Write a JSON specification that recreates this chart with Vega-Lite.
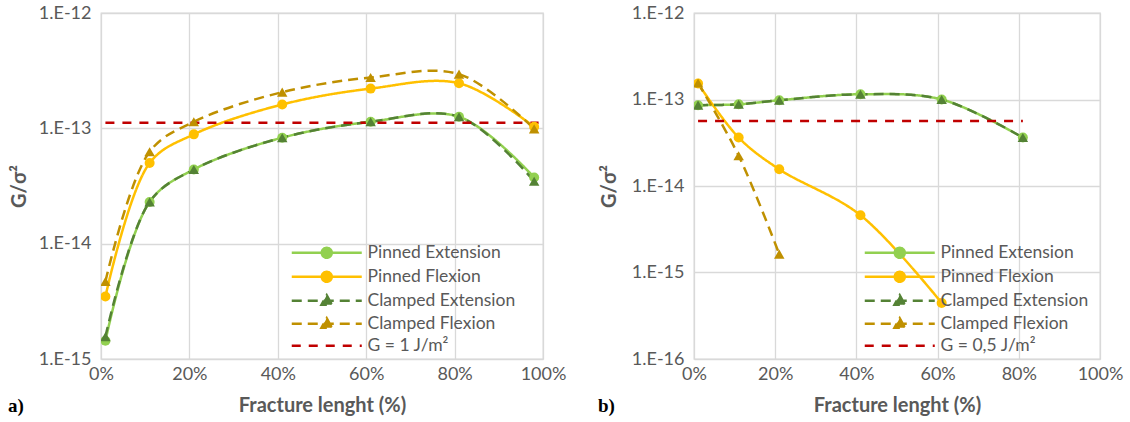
{
  "$schema": "https://vega.github.io/schema/vega-lite/v6.json",
  "padding": {"left": 7, "top": 3, "right": 5, "bottom": 0},
  "background": "white",
  "bounds": "flush",
  "spacing": 151,
  "datasets": {
    "a": [
      {"series": "Pinned Extension", "x": 1, "g": 1.44e-15},
      {"series": "Pinned Extension", "x": 11, "g": 2.3e-14},
      {"series": "Pinned Extension", "x": 21, "g": 4.4e-14},
      {"series": "Pinned Extension", "x": 41, "g": 8.3e-14},
      {"series": "Pinned Extension", "x": 61, "g": 1.14e-13},
      {"series": "Pinned Extension", "x": 81, "g": 1.26e-13},
      {"series": "Pinned Extension", "x": 98, "g": 3.75e-14},
      {"series": "Pinned Flexion", "x": 1, "g": 3.48e-15},
      {"series": "Pinned Flexion", "x": 11, "g": 5.0e-14},
      {"series": "Pinned Flexion", "x": 21, "g": 8.87e-14},
      {"series": "Pinned Flexion", "x": 41, "g": 1.61e-13},
      {"series": "Pinned Flexion", "x": 61, "g": 2.21e-13},
      {"series": "Pinned Flexion", "x": 81, "g": 2.46e-13},
      {"series": "Pinned Flexion", "x": 98, "g": 1.03e-13},
      {"series": "Clamped Extension", "x": 1, "g": 1.56e-15},
      {"series": "Clamped Extension", "x": 11, "g": 2.3e-14},
      {"series": "Clamped Extension", "x": 21, "g": 4.4e-14},
      {"series": "Clamped Extension", "x": 41, "g": 8.3e-14},
      {"series": "Clamped Extension", "x": 61, "g": 1.14e-13},
      {"series": "Clamped Extension", "x": 81, "g": 1.26e-13},
      {"series": "Clamped Extension", "x": 98, "g": 3.48e-14},
      {"series": "Clamped Flexion", "x": 1, "g": 4.7e-15},
      {"series": "Clamped Flexion", "x": 11, "g": 6.27e-14},
      {"series": "Clamped Flexion", "x": 21, "g": 1.14e-13},
      {"series": "Clamped Flexion", "x": 41, "g": 2.06e-13},
      {"series": "Clamped Flexion", "x": 61, "g": 2.76e-13},
      {"series": "Clamped Flexion", "x": 81, "g": 2.95e-13},
      {"series": "Clamped Flexion", "x": 98, "g": 9.9e-14},
      {"series": "G = 1 J/m²", "x": 1, "g": 1.12e-13},
      {"series": "G = 1 J/m²", "x": 99, "g": 1.12e-13}
    ],
    "b": [
      {"series": "Pinned Extension", "x": 1, "g": 8.6e-14},
      {"series": "Pinned Extension", "x": 11, "g": 8.8e-14},
      {"series": "Pinned Extension", "x": 21, "g": 9.8e-14},
      {"series": "Pinned Extension", "x": 41, "g": 1.15e-13},
      {"series": "Pinned Extension", "x": 61, "g": 1.0e-13},
      {"series": "Pinned Extension", "x": 81, "g": 3.63e-14},
      {"series": "Pinned Flexion", "x": 1, "g": 1.53e-13},
      {"series": "Pinned Flexion", "x": 11, "g": 3.63e-14},
      {"series": "Pinned Flexion", "x": 21, "g": 1.56e-14},
      {"series": "Pinned Flexion", "x": 41, "g": 4.6e-15},
      {"series": "Pinned Flexion", "x": 61, "g": 4.45e-16},
      {"series": "Clamped Extension", "x": 1, "g": 8.6e-14},
      {"series": "Clamped Extension", "x": 11, "g": 8.8e-14},
      {"series": "Clamped Extension", "x": 21, "g": 9.8e-14},
      {"series": "Clamped Extension", "x": 41, "g": 1.15e-13},
      {"series": "Clamped Extension", "x": 61, "g": 1.0e-13},
      {"series": "Clamped Extension", "x": 81, "g": 3.63e-14},
      {"series": "Clamped Flexion", "x": 1, "g": 1.55e-13},
      {"series": "Clamped Flexion", "x": 11, "g": 2.24e-14},
      {"series": "Clamped Flexion", "x": 21, "g": 1.63e-15},
      {"series": "G = 0,5 J/m²", "x": 1, "g": 5.65e-14},
      {"series": "G = 0,5 J/m²", "x": 81, "g": 5.65e-14}
    ]
  },
  "resolve": {
    "scale": {"color": "independent", "strokeDash": "independent", "x": "independent", "y": "independent"},
    "legend": {"color": "independent"}
  },
  "hconcat": [
    {
      "width": 442,
      "height": 346,
      "data": {"name": "a"},
      "title": {"text": "a)", "orient": "bottom", "anchor": "start", "frame": "group", "font": "Liberation Serif", "fontSize": 19, "fontWeight": "bold", "color": "#000000", "dx": -93, "dy": -18, "offset": 0},
      "encoding": {
        "x": {"field": "x", "type": "quantitative", "scale": {"domain": [0, 100], "nice": false}, "axis": {"values": [0, 20, 40, 60, 80, 100], "labelExpr": "datum.value + '%'", "labelPadding": 6, "title": "Fracture lenght (%)", "titlePadding": 12}},
        "y": {"field": "g", "type": "quantitative", "scale": {"type": "log", "domain": [1e-15, 1e-12], "nice": false}, "axis": {"values": [1e-15, 1e-14, 1e-13, 1e-12], "labelExpr": "'1.E-' + round(-log(datum.value)/LN10)", "labelPadding": 10, "title": "G/σ²", "titlePadding": 9}}
      },
      "layer": [
        {
          "mark": {"type": "line", "interpolate": "catmull-rom", "strokeWidth": 2.5, "clip": true},
          "encoding": {
            "color": {"field": "series", "type": "nominal", "scale": {"domain": ["Pinned Extension", "Pinned Flexion", "Clamped Extension", "Clamped Flexion", "G = 1 J/m²"], "range": ["#92D050", "#FFC000", "#548235", "#BF9000", "#C00000"]},
              "legend": {"orient": "none", "legendX": 217, "legendY": 231, "title": null, "padding": 0, "labelFont": "Lato", "labelFontSize": 17.5, "labelColor": "#595959", "labelOffset": 32, "rowPadding": 3, "symbolSize": 100, "labelLimit": 300,
                "encode": {"symbols": {"update": {
                  "shape": {"signal": "indexof(datum.value,'Pinned')==0 ? 'M-7,0H7M-1,0A1,1 0 1,0 1,0A1,1 0 1,0 -1,0Z' : indexof(datum.value,'Clamped')==0 ? 'M-7,0H7M0,-1.1L1.05,0.8L-1.05,0.8Z' : 'M-7,0H7'"},
                  "fill": {"signal": "datum.value=='Pinned Extension' ? '#92D050' : datum.value=='Pinned Flexion' ? '#FFC000' : datum.value=='Clamped Extension' ? '#548235' : datum.value=='Clamped Flexion' ? '#BF9000' : '#C00000'"},
                  "stroke": {"signal": "datum.value=='Pinned Extension' ? '#92D050' : datum.value=='Pinned Flexion' ? '#FFC000' : datum.value=='Clamped Extension' ? '#548235' : datum.value=='Clamped Flexion' ? '#BF9000' : '#C00000'"},
                  "strokeDash": {"signal": "indexof(datum.value,'Pinned')==0 ? [1,0] : indexof(datum.value,'Clamped')==0 ? [10,6] : [9,8]"},
                  "strokeWidth": {"value": 2.5},
                  "size": {"value": 100},
                  "opacity": {"value": 1},
                  "fillOpacity": {"value": 1},
                  "strokeOpacity": {"value": 1}
                }}}}},
            "strokeDash": {"field": "series", "type": "nominal", "scale": {"domain": ["Pinned Extension", "Pinned Flexion", "Clamped Extension", "Clamped Flexion", "G = 1 J/m²"], "range": [[1, 0], [1, 0], [10, 6], [10, 6], [9, 8]]}, "legend": null},
            "strokeWidth": {"condition": {"test": "indexof(datum.series,'G =')==0", "value": 3}, "value": 2.5}
          }
        },
        {
          "transform": [{"filter": "indexof(datum.series,'Pinned') == 0"}],
          "mark": {"type": "circle", "opacity": 1, "size": 100, "clip": true},
          "encoding": {
            "color": {"field": "series", "type": "nominal", "legend": null}
          }
        },
        {
          "transform": [{"filter": "indexof(datum.series,'Clamped') == 0"}],
          "mark": {"type": "point", "shape": "triangle-up", "filled": true, "opacity": 1, "size": 110, "clip": true},
          "encoding": {
            "color": {"field": "series", "type": "nominal", "legend": null}
          }
        }
      ]
    },
    {
      "width": 406,
      "height": 346,
      "data": {"name": "b"},
      "title": {"text": "b)", "orient": "bottom", "anchor": "start", "frame": "group", "font": "Liberation Serif", "fontSize": 19, "fontWeight": "bold", "color": "#000000", "dx": -96, "dy": -18, "offset": 0},
      "encoding": {
        "x": {"field": "x", "type": "quantitative", "scale": {"domain": [0, 100], "nice": false}, "axis": {"values": [0, 20, 40, 60, 80, 100], "labelExpr": "datum.value + '%'", "labelPadding": 6, "title": "Fracture lenght (%)", "titlePadding": 12}},
        "y": {"field": "g", "type": "quantitative", "scale": {"type": "log", "domain": [1e-16, 1e-12], "nice": false}, "axis": {"values": [1e-16, 1e-15, 1e-14, 1e-13, 1e-12], "labelExpr": "'1.E-' + round(-log(datum.value)/LN10)", "labelPadding": 10, "title": "G/σ²", "titlePadding": 12}}
      },
      "layer": [
        {
          "mark": {"type": "line", "interpolate": "catmull-rom", "strokeWidth": 2.5, "clip": true},
          "encoding": {
            "color": {"field": "series", "type": "nominal", "scale": {"domain": ["Pinned Extension", "Pinned Flexion", "Clamped Extension", "Clamped Flexion", "G = 0,5 J/m²"], "range": ["#92D050", "#FFC000", "#548235", "#BF9000", "#C00000"]},
              "legend": {"orient": "none", "legendX": 197, "legendY": 231, "title": null, "padding": 0, "labelFont": "Lato", "labelFontSize": 17.5, "labelColor": "#595959", "labelOffset": 32, "rowPadding": 3, "symbolSize": 100, "labelLimit": 300,
                "encode": {"symbols": {"update": {
                  "shape": {"signal": "indexof(datum.value,'Pinned')==0 ? 'M-7,0H7M-1,0A1,1 0 1,0 1,0A1,1 0 1,0 -1,0Z' : indexof(datum.value,'Clamped')==0 ? 'M-7,0H7M0,-1.1L1.05,0.8L-1.05,0.8Z' : 'M-7,0H7'"},
                  "fill": {"signal": "datum.value=='Pinned Extension' ? '#92D050' : datum.value=='Pinned Flexion' ? '#FFC000' : datum.value=='Clamped Extension' ? '#548235' : datum.value=='Clamped Flexion' ? '#BF9000' : '#C00000'"},
                  "stroke": {"signal": "datum.value=='Pinned Extension' ? '#92D050' : datum.value=='Pinned Flexion' ? '#FFC000' : datum.value=='Clamped Extension' ? '#548235' : datum.value=='Clamped Flexion' ? '#BF9000' : '#C00000'"},
                  "strokeDash": {"signal": "indexof(datum.value,'Pinned')==0 ? [1,0] : indexof(datum.value,'Clamped')==0 ? [10,6] : [9,8]"},
                  "strokeWidth": {"value": 2.5},
                  "size": {"value": 100},
                  "opacity": {"value": 1},
                  "fillOpacity": {"value": 1},
                  "strokeOpacity": {"value": 1}
                }}}}},
            "strokeDash": {"field": "series", "type": "nominal", "scale": {"domain": ["Pinned Extension", "Pinned Flexion", "Clamped Extension", "Clamped Flexion", "G = 0,5 J/m²"], "range": [[1, 0], [1, 0], [10, 6], [10, 6], [9, 8]]}, "legend": null},
            "strokeWidth": {"condition": [{"test": "indexof(datum.series,'G =')==0", "value": 3}, {"test": "datum.series == 'Clamped Flexion'", "value": 4}], "value": 2.5}
          }
        },
        {
          "transform": [{"filter": "indexof(datum.series,'Pinned') == 0"}],
          "mark": {"type": "circle", "opacity": 1, "size": 100, "clip": true},
          "encoding": {
            "color": {"field": "series", "type": "nominal", "legend": null}
          }
        },
        {
          "transform": [{"filter": "indexof(datum.series,'Clamped') == 0"}],
          "mark": {"type": "point", "shape": "triangle-up", "filled": true, "opacity": 1, "size": 110, "clip": true},
          "encoding": {
            "color": {"field": "series", "type": "nominal", "legend": null}
          }
        }
      ]
    }
  ],
  "config": {
    "view": {"stroke": "#d9d9d9", "strokeWidth": 1.3},
    "axis": {"domain": false, "ticks": false, "grid": true, "gridColor": "#d9d9d9", "gridWidth": 1.3, "labelFont": "Lato", "labelFontSize": 18, "labelColor": "#595959", "labelFlush": false, "labelOverlap": false, "titleFont": "Lato", "titleFontSize": 20, "titleFontWeight": "bold", "titleColor": "#595959"}
  }
}
